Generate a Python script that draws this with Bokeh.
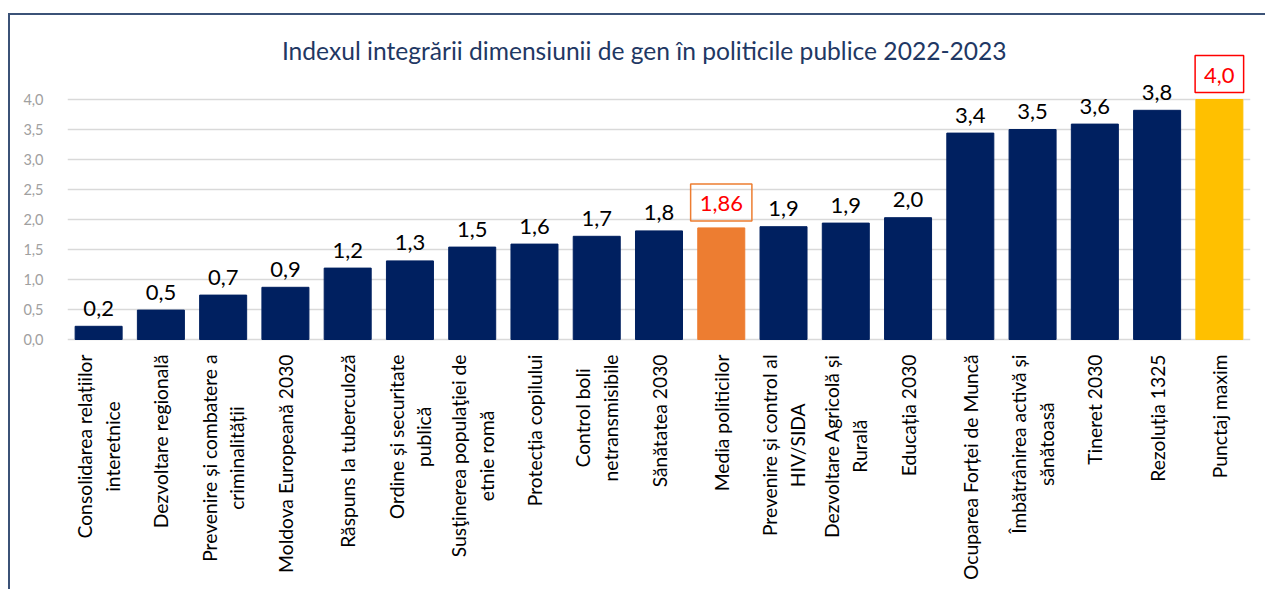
import math
from bokeh.plotting import figure
from bokeh.models import (FactorRange, Range1d, FixedTicker, ColumnDataSource,
                          CustomJSTickFormatter)
from bokeh.core.properties import value
from bokeh.embed import file_html
from bokeh.resources import INLINE

title_text = "Indexul integrării dimensiunii de gen în politicile publice 2022-2023"

categories = [
    "Consolidarea relațiilor interetnice",
    "Dezvoltare regională",
    "Prevenire și combatere a criminalității",
    "Moldova Europeană 2030",
    "Răspuns la tuberculoză",
    "Ordine și securitate publică",
    "Susţinerea populaţiei de etnie romă",
    "Protecția copilului",
    "Control boli netransmisibile",
    "Sănătatea 2030",
    "Media politicilor",
    "Prevenire și control al HIV/SIDA",
    "Dezvoltare Agricolă și Rurală",
    "Educația 2030",
    "Ocuparea Forței de Muncă",
    "Îmbătrânirea activă și sănătoasă",
    "Tineret 2030",
    "Rezoluția 1325",
    "Punctaj maxim",
]

tick_labels = [
    "Consolidarea relațiilor\ninteretnice",
    "Dezvoltare regională",
    "Prevenire și combatere a\ncriminalității",
    "Moldova Europeană 2030",
    "Răspuns la tuberculoză",
    "Ordine și securitate\npublică",
    "Susţinerea populaţiei de\netnie romă",
    "Protecția copilului",
    "Control boli\nnetransmisibile",
    "Sănătatea 2030",
    "Media politicilor",
    "Prevenire și control al\nHIV/SIDA",
    "Dezvoltare Agricolă și\nRurală",
    "Educația 2030",
    "Ocuparea Forței de Muncă",
    "Îmbătrânirea activă și\nsănătoasă",
    "Tineret 2030",
    "Rezoluția 1325",
    "Punctaj maxim",
]

values = [0.22, 0.49, 0.74, 0.87, 1.19, 1.31, 1.54, 1.59, 1.72, 1.81,
          1.86, 1.88, 1.94, 2.03, 3.44, 3.50, 3.59, 3.82, 4.00]

value_labels = ["0,2", "0,5", "0,7", "0,9", "1,2", "1,3", "1,5", "1,6", "1,7", "1,8",
                "1,86", "1,9", "1,9", "2,0", "3,4", "3,5", "3,6", "3,8", "4,0"]

y_ticks = [0.0, 0.5, 1.0, 1.5, 2.0, 2.5, 3.0, 3.5, 4.0]

media_name = "Media politicilor"
max_name = "Punctaj maxim"

NAVY = "#002060"
ORANGE = "#ED7D31"
YELLOW = "#FFC000"
colors = [ORANGE if c == media_name else YELLOW if c == max_name else NAVY for c in categories]

FONT = "Lato"

p = figure(x_range=FactorRange(*categories), y_range=Range1d(-4.2, 5.15),
           width=1257, height=576, output_backend="svg", toolbar_location=None,
           min_border_left=57, min_border_right=17, min_border_top=15, min_border_bottom=0)
p.outline_line_color = None
p.background_fill_color = "white"
p.border_fill_color = "white"
p.styles = {"position": "absolute", "left": "8px", "top": "13px",
            "border-left": "2px solid #3B5277", "border-top": "2px solid #3B5277"}

bars = ColumnDataSource(dict(cat=categories, val=values, color=colors))
p.vbar(x="cat", top="val", width=0.755, color="color", source=bars)

# regular value labels
idx_plain = [i for i, c in enumerate(categories) if c not in (media_name, max_name)]
plain = ColumnDataSource(dict(cat=[categories[i] for i in idx_plain],
                              val=[values[i] for i in idx_plain],
                              lab=[value_labels[i] for i in idx_plain]))
p.text(x="cat", y="val", text="lab", source=plain, text_align="center",
       text_baseline="alphabetic", y_offset=-18, text_font=value(FONT),
       text_font_size="22px", text_color="black")

# boxed labels
for name, border in ((media_name, ORANGE), (max_name, "#FF0000")):
    i = categories.index(name)
    p.text(x=[name], y=[values[i]], text=[value_labels[i]], anchor="bottom_center",
           text_align="center", y_offset=-7, text_font=value(FONT),
           text_font_size="22px", text_color="#FF0000",
           border_line_color=border, border_line_width=1.5,
           padding=dict(left=9, right=9, top=12, bottom=10))

# category labels (rotated, multi-line, centred lines)
cat_src = ColumnDataSource(dict(cat=categories, zero=[0.0] * len(categories), lab=tick_labels))
p.text(x="cat", y="zero", text="lab", source=cat_src, angle=math.pi / 2,
       anchor="center_right", text_align="center", text_baseline="middle",
       y_offset=15, text_font=value(FONT), text_font_size="19.3px",
       text_color="black", text_line_height=1.2)

# title
p.text(x=[media_name], y=[4.817], text=[title_text], x_offset=-77,
       text_align="center", text_baseline="middle", text_font=value(FONT),
       text_font_size="24.6px", text_color="#1F3864")

# axes
p.xaxis.visible = False
p.yaxis.ticker = FixedTicker(ticks=y_ticks)
p.yaxis.formatter = CustomJSTickFormatter(code="return tick.toFixed(1).replace('.', ',');")
p.yaxis.axis_line_color = None
p.yaxis.major_tick_line_color = None
p.yaxis.minor_tick_line_color = None
p.yaxis.major_label_standoff = 18
p.yaxis.major_label_text_font = FONT
p.yaxis.major_label_text_font_size = "14.5px"
p.yaxis.major_label_text_color = "#A0A0A0"

p.ygrid.ticker = FixedTicker(ticks=y_ticks)
p.ygrid.grid_line_color = "#D9D9D9"
p.ygrid.grid_line_width = 1.5
p.xgrid.grid_line_color = None

open("out.html", "w").write(file_html(p, INLINE))
